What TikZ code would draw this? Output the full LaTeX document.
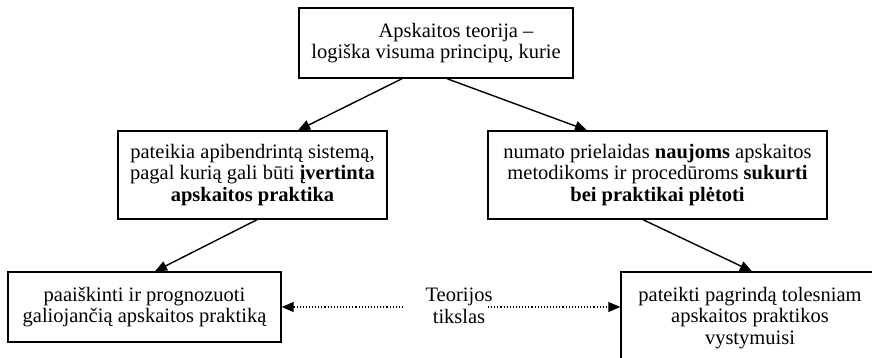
\documentclass[tikz,border=0pt]{standalone}
\usepackage{fontspec}
\setmainfont{Liberation Serif}
\usetikzlibrary{arrows.meta}

\begin{document}
\begin{tikzpicture}[x=1pt, y=-1pt,
box/.style={draw, line width=1.4pt, align=center, inner sep=0pt,
  font=\fontsize{20.5}{21.5}\selectfont},
goaltext/.style={align=center, inner sep=0pt, font=\fontsize{20.5}{21.5}\selectfont},
link/.style={line width=1.4pt, -{Triangle[length=12pt,width=10pt]}},
aim/.style={line width=1.1pt, dotted, -{Triangle[length=12pt,width=10pt]}}
]
\useasboundingbox (0,0) rectangle (872,357);
\node[box, minimum width=274pt, minimum height=70pt] (theory) at (436,43)
  {\hspace*{40pt}Apskaitos teorija --\\logiška visuma principų, kurie};
\node[box, minimum width=269pt, minimum height=88pt] (frame) at (252.5,175)
  {pateikia apibendrintą sistemą,\\pagal kurią gali būti \textbf{įvertinta}\\\textbf{apskaitos praktika}};
\node[box, minimum width=339pt, minimum height=88pt] (novel) at (657.5,175)
  {numato prielaidas \textbf{naujoms} apskaitos\\metodikoms ir procedūroms \textbf{sukurti}\\\textbf{bei praktikai plėtoti}};
\node[box, minimum width=273pt, minimum height=70pt] (explain) at (144.5,307)
  {paaiškinti ir prognozuoti\\galiojančią apskaitos praktiką};
\node[box, minimum width=258pt, minimum height=92pt] (future) at (750,318)
  {pateikti pagrindą tolesniam\\apskaitos praktikos\\vystymuisi};
\node[goaltext] (goal) at (459,306) {Teorijos\\tikslas};
\coordinate (goalL) at (403,307);
\coordinate (goalR) at (488,307);
\draw[link] ([xshift=-34pt]theory.south) -- ([xshift=45.5pt]frame.north);
\draw[link] ([xshift=11pt]theory.south) -- ([xshift=-70.5pt]novel.north);
\draw[link] ([xshift=4.5pt]frame.south) -- ([xshift=10.5pt]explain.north);
\draw[link] ([xshift=-14.5pt]novel.south) -- ([xshift=2pt]future.north);
\draw[aim] (goalL) -- (goalL -| explain.east);
\draw[aim] (goalR) -- (goalR -| future.west);
\end{tikzpicture}
\end{document}
